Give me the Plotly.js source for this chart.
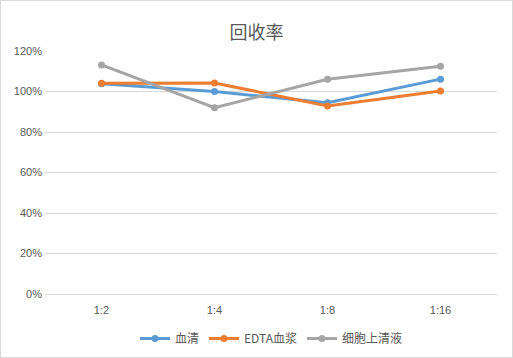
<!DOCTYPE html>
<html><head><meta charset="utf-8">
<script src="https://cdn.plot.ly/plotly-3.0.1.min.js"></script>
<style>html,body{margin:0;padding:0;background:#fff}#c{width:513px;height:358px;box-sizing:border-box;border:1px solid #d9d9d9}</style>
</head><body><div id="c"></div>
<script>
const categories = ["1:2","1:4","1:8","1:16"];
const serum = [103.8, 100.0, 94.4, 106.1];
const edtaPlasma = [104.1, 104.2, 92.9, 100.2];
const cellSupernatant = [113.1, 92.0, 106.0, 112.5];
const seriesNames = ["血清","EDTA血浆","细胞上清液"];
const colors = ["#5B9BD5","#ED7D31","#A5A5A5"];
const yTickVals = [0,20,40,60,80,100,120];

const series = [serum, edtaPlasma, cellSupernatant];
const traces = series.map((v,i)=>({
  x: categories, y: v, name: seriesNames[i], type:"scatter", mode:"lines+markers",
  line:{color:colors[i], width:3}, marker:{color:colors[i], size:7}
}));
const fontFam = "'Liberation Sans', 'Noto Sans CJK SC', sans-serif";
Plotly.newPlot("c", traces, {
  width:511, height:356,
  margin:{l:44, r:15, t:50, b:63},
  paper_bgcolor:"#fff", plot_bgcolor:"#fff",
  font:{family:fontFam, color:"#595959", size:11},
  title:{text:"回收率", x:0.5, xanchor:"center", y:0.912, yanchor:"middle",
    font:{family:"'Noto Sans CJK SC', sans-serif", size:18, color:"#595959"}},
  xaxis:{type:"category", range:[-0.5,3.5], showgrid:false, zeroline:false, showline:false,
    ticks:"", ticklabelstandoff:8, automargin:false, tickfont:{size:11, color:"#595959"}},
  yaxis:{range:[0,120], tickvals:yTickVals, ticktext:yTickVals.map(v=>v+"%"), showgrid:true, gridcolor:"#d9d9d9",
    gridwidth:1, zeroline:true, zerolinecolor:"#d9d9d9", showline:false, ticks:"", ticklen:0, automargin:false,
    ticklabelstandoff:2, tickfont:{size:11, color:"#595959"}},
  showlegend:true,
  legend:{orientation:"h", x:0.5, xanchor:"center", yref:"container", y:0.052, yanchor:"middle",
    font:{family:"'Noto Sans CJK SC', 'Liberation Sans', sans-serif", size:12, color:"#595959"},
    itemwidth:30, tracegroupgap:0}
}, {displayModeBar:false, staticPlot:true});
</script></body></html>
